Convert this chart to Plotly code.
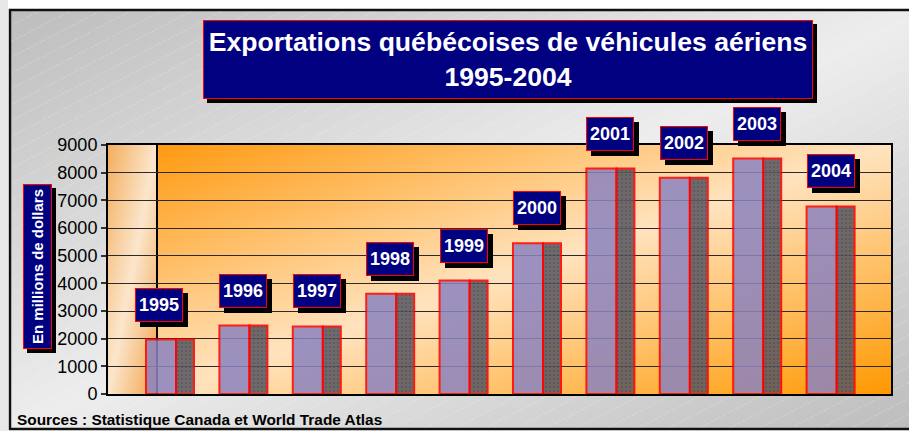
import base64
import plotly.graph_objects as go

# ---------------- data ----------------
years = [1995, 1996, 1997, 1998, 1999, 2000, 2001, 2002, 2003, 2004]
exports = [1970, 2475, 2440, 3620, 4100, 5450, 8150, 7820, 8510, 6780]  # millions $
y_ticks = [0, 1000, 2000, 3000, 4000, 5000, 6000, 7000, 8000, 9000]
title_text = "Exportations québécoises de véhicules aériens<br>1995-2004"
y_title = "En millions de dollars"
source_text = "Sources : Statistique Canada et World Trade Atlas"

# ---------------- layout geometry (screen pixels; body margin removed) ----------------
W, H = 909, 431
SX0, SX1, SY0, SY1 = 108, 891, 145, 394      # plot area
L, T = SX0, SY0
R, B = W - SX1, H - SY1
PW, PH = W - L - R, H - T - B


def px(x):
    return (x - L) / PW


def py(y):
    return (H - B - y) / PH


def svg_uri(svg):
    return "data:image/svg+xml;base64," + base64.b64encode(svg.encode()).decode()


outer_svg = """<svg xmlns='http://www.w3.org/2000/svg' width='900' height='420' preserveAspectRatio='none' viewBox='0 0 900 420'>
<defs>
<linearGradient id='g' x1='0' y1='0' x2='1' y2='1'>
<stop offset='0' stop-color='#bdbdbd'/><stop offset='0.5' stop-color='#ededed'/><stop offset='1' stop-color='#bcbcbc'/>
</linearGradient>
<pattern id='p' width='14' height='14' patternUnits='userSpaceOnUse' patternTransform='rotate(-28)'>
<line x1='0' y1='0' x2='14' y2='0' stroke='#ffffff' stroke-width='1' stroke-dasharray='3,2' opacity='0.45'/>
</pattern>
</defs>
<rect width='900' height='420' fill='url(#g)'/>
<rect width='900' height='420' fill='url(#p)'/>
</svg>"""

back_svg = """<svg xmlns='http://www.w3.org/2000/svg' width='400' height='200' preserveAspectRatio='none' viewBox='0 0 400 200'>
<defs><linearGradient id='g' x1='0' y1='0' x2='1' y2='1'>
<stop offset='0' stop-color='#ff9a10'/><stop offset='0.5' stop-color='#ffe3bf'/><stop offset='1' stop-color='#ff9800'/>
</linearGradient></defs>
<rect width='400' height='200' fill='url(#g)'/></svg>"""

side_svg = """<svg xmlns='http://www.w3.org/2000/svg' width='50' height='250' preserveAspectRatio='none' viewBox='0 0 50 250'>
<defs><linearGradient id='g' x1='0' y1='0' x2='1' y2='1'>
<stop offset='0' stop-color='#f4ae5e'/><stop offset='0.5' stop-color='#fbe6cc'/><stop offset='1' stop-color='#f2a24a'/>
</linearGradient></defs>
<rect width='50' height='250' fill='url(#g)'/></svg>"""

# x axis: 73.4 px per year, 1995 centre at pixel 170
ppy = 73.4
x0 = 1995 - (170 - SX0) / ppy
x1 = x0 + PW / ppy

fig = go.Figure()

fig.add_trace(go.Bar(
    x=years, y=exports, width=0.409, offset=-0.327,
    marker=dict(color="#8c84bf", line=dict(color="#ff0000", width=2)),
    opacity=0.86, hoverinfo="x+y", showlegend=False,
))
fig.add_trace(go.Bar(
    x=years, y=exports, width=0.245, offset=0.082,
    marker=dict(color="#55535e", line=dict(color="#ff0000", width=2),
                pattern=dict(shape=".", fgcolor="#3e3c46", bgcolor="#5c5a64", size=4, solidity=0.3)),
    opacity=0.88, hoverinfo="x+y", showlegend=False,
))

annotations = []
font_fam = "Liberation Sans, Arial, sans-serif"
BLANK = "\u00a0"

# title box with shadow
tx, ty = 508, 59.5
annotations.append(dict(
    xref="paper", yref="paper", x=px(tx + 4), y=py(ty + 4), xanchor="center", yanchor="middle",
    text=BLANK, showarrow=False, width=608, height=77, bgcolor="black",
    bordercolor="black", borderwidth=1, borderpad=0))
annotations.append(dict(
    xref="paper", yref="paper", x=px(tx), y=py(ty), xanchor="center", yanchor="middle",
    text=title_text, showarrow=False, width=608, height=77, bgcolor="#000080",
    bordercolor="#ff0000", borderwidth=1, borderpad=0,
    font=dict(family=font_fam, size=26.6, color="white", weight="bold")))

# y-axis title box with shadow
ax_, ay_ = 37.5, 266.5
annotations.append(dict(
    xref="paper", yref="paper", x=px(ax_ + 4), y=py(ay_ + 4), xanchor="center", yanchor="middle",
    text=BLANK, showarrow=False, width=27, height=163, bgcolor="black",
    bordercolor="black", borderwidth=1, borderpad=0))
annotations.append(dict(
    xref="paper", yref="paper", x=px(ax_), y=py(ay_), xanchor="center", yanchor="middle",
    text=y_title, showarrow=False, textangle=-90, width=163, height=27,
    bgcolor="#000080", bordercolor="#ff0000", borderwidth=1, borderpad=0,
    font=dict(family=font_fam, size=15, color="white", weight="bold")))

# year label boxes with shadows
for i, (yr, v) in enumerate(zip(years, exports)):
    xs = -11 if i == 0 else 0
    annotations.append(dict(
        xref="x", yref="y", x=yr, y=v, xanchor="center", yanchor="bottom",
        xshift=xs + 5, yshift=13, text=BLANK, showarrow=False,
        width=46, height=32, bgcolor="black", bordercolor="black", borderwidth=1, borderpad=0))
    annotations.append(dict(
        xref="x", yref="y", x=yr, y=v, xanchor="center", yanchor="bottom",
        xshift=xs, yshift=18, text=str(yr), showarrow=False,
        width=46, height=32, bgcolor="#000080", bordercolor="#ff0000", borderwidth=1, borderpad=0,
        font=dict(family=font_fam, size=18, color="white", weight="bold")))

# source
annotations.append(dict(
    xref="paper", yref="paper", x=px(15), y=py(419.5), xanchor="left", yanchor="middle",
    text=source_text, showarrow=False,
    font=dict(family=font_fam, size=15.4, color="black", weight="bold"),
))

shapes = [
    dict(type="rect", xref="paper", yref="paper", x0=px(0), x1=px(8), y0=py(0), y1=py(H),
         fillcolor="#e8e8e8", line=dict(width=0), layer="below"),
    dict(type="rect", xref="paper", yref="paper", x0=px(10), x1=px(930), y0=py(10), y1=py(429),
         line=dict(color="#111111", width=2.5), layer="below"),
    dict(type="line", xref="paper", yref="paper", x0=px(157), x1=px(157), y0=0, y1=1,
         line=dict(color="black", width=2), layer="below"),
]

images = [
    dict(source=svg_uri(outer_svg), xref="paper", yref="paper", x=px(10), y=py(10),
         sizex=px(930) - px(10), sizey=py(10) - py(429), xanchor="left", yanchor="top",
         sizing="stretch", layer="below"),
    dict(source=svg_uri(side_svg), xref="paper", yref="paper", x=0, y=1,
         sizex=px(157), sizey=1, xanchor="left", yanchor="top", sizing="stretch", layer="below"),
    dict(source=svg_uri(back_svg), xref="paper", yref="paper", x=px(157), y=1,
         sizex=1 - px(157), sizey=1, xanchor="left", yanchor="top", sizing="stretch", layer="below"),
]

fig.update_layout(
    width=W, height=H, margin=dict(l=L, r=R, t=T, b=B, pad=0),
    paper_bgcolor="white", plot_bgcolor="rgba(0,0,0,0)",
    barmode="overlay", annotations=annotations, shapes=shapes, images=images,
    font=dict(family=font_fam),
    xaxis=dict(range=[x0, x1], showticklabels=False, ticks="", showgrid=False,
               zeroline=False, showline=True, linecolor="black", linewidth=2, mirror=True),
    yaxis=dict(range=[0, 9000], tickvals=y_ticks, ticktext=[str(t) for t in y_ticks],
               ticks="outside", ticklen=5, tickwidth=1.5, tickcolor="#333333",
               tickfont=dict(family=font_fam, size=18, color="black"),
               showgrid=True, gridcolor="#2a2a2a", gridwidth=1.4, zeroline=False,
               showline=True, linecolor="black", linewidth=2, mirror=True),
)

fig.write_html(
    "out.html",
    config={"displayModeBar": False},
    post_script="document.body.style.margin='0';document.documentElement.style.overflow='hidden';",
)
